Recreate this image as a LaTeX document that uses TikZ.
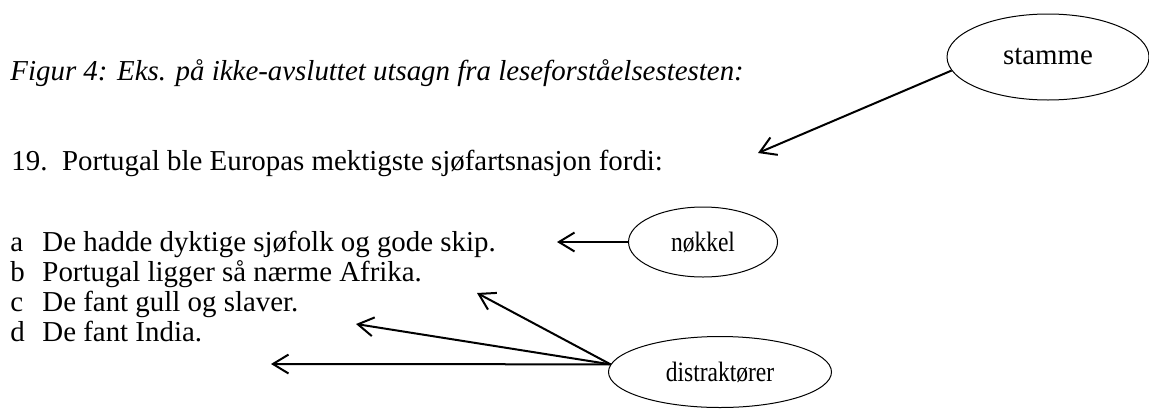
\documentclass[tikz,border=0pt]{standalone}
\usepackage{fontspec}
\setmainfont{Liberation Serif}
\usetikzlibrary{shapes.geometric,arrows.meta}
% narrow label text used inside the small ovals
\newcommand{\narrowlabel}[1]{\scalebox{0.84}[1]{#1}}
\tikzset{
  txt/.style={anchor=base west,inner sep=0pt,font=\fontsize{13}{15}\selectfont},
  oval/.style={draw,ellipse,line width=0.45pt,inner sep=0pt,font=\fontsize{12.6}{14}\selectfont},
  arr/.style={line width=0.9pt,-{Straight Barb[length=7pt,width=8.5pt]}}
}
\begin{document}
\begin{tikzpicture}[x=0.45pt,y=-0.45pt]
  \useasboundingbox (0,0) rectangle (1149,410);
  % caption
  \node[txt,font=\fontsize{13}{15}\selectfont\itshape] (title) at (10,80)
    {Figur 4: Eks. på ikke-avsluttet utsagn fra leseforståelsestesten:};
  % question stem
  \node[txt] (q) at (11,170) {19.\ \ Portugal ble Europas mektigste sjøfartsnasjon fordi:};
  % answer options
  \node[txt] (la) at (10,251) {a};
  \node[txt] (ta) at (42,251) {De hadde dyktige sjøfolk og gode skip.};
  \node[txt] (lb) at (10,281) {b};
  \node[txt] (tb) at (42,281) {Portugal ligger så nærme Afrika.};
  \node[txt] (lc) at (10,311) {c};
  \node[txt] (tc) at (42,311) {De fant gull og slaver.};
  \node[txt] (ld) at (10,341) {d};
  \node[txt] (td) at (42,341) {De fant India.};
  % labels
  \node[oval,font=\fontsize{13}{15}\selectfont,minimum width=202*0.45pt,minimum height=86*0.45pt] (stamme) at (1048,57) {stamme};
  \node[oval,minimum width=149*0.45pt,minimum height=70*0.45pt] (nokkel) at (703,242) {\narrowlabel{nøkkel}};
  \node[oval,minimum width=223*0.45pt,minimum height=71*0.45pt] (distr) at (720,372) {\narrowlabel{distraktører}};
  % arrow targets
  \coordinate (pS) at (758,153);
  \coordinate (pA) at (557,242);
  \coordinate (pB) at (477,293);
  \coordinate (pC) at (356,324);
  \coordinate (pD) at (271,364);
  % arrows
  \draw[arr] (stamme.188) -- (pS);
  \draw[arr] (nokkel.west) -- (pA);
  \draw[arr] (distr.176) -- (pB);
  \draw[arr] (distr.176) -- (pC);
  \draw[arr] (distr.176) -- (pD);
\end{tikzpicture}
\end{document}
